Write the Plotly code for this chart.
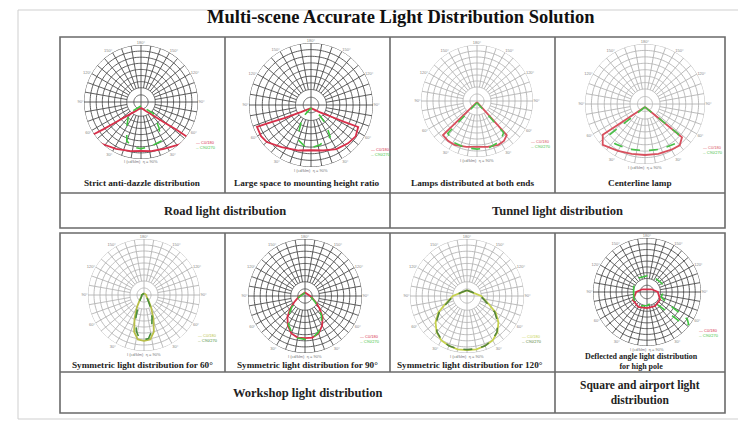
import numpy as np
import plotly.graph_objects as go

W, H = 738, 425

# ---- data: luminous intensity curves (angle from nadir in degrees, relative intensity) ----
# Road: strict anti-dazzle
antidazzle_c0_theta = [0, -30, -44, -51, -54, -56, -46, -28, -12, 0, 12, 25, 44, 53, 52, 49, 42, 28, 0]
antidazzle_c0_r = [0.10, 0.18, 0.32, 0.56, 0.81, 1.05, 1.03, 0.93, 0.88, 0.86, 0.88, 0.91, 1.02, 1.05, 0.80, 0.56, 0.32, 0.18, 0.10]
antidazzle_c90_theta = [0, -47, -30, -20, -10, 0, 12, 27, 35, 47, 0]
antidazzle_c90_r = [0.07, 0.29, 0.50, 0.73, 0.80, 0.82, 0.80, 0.77, 0.55, 0.29, 0.07]

# Road: large spacing-to-mounting-height ratio
spacing_c0_theta = [0, -55, -64, -67, -68, -58, -50, -35, -15, 0, 15, 30, 44, 55, 65, 63, 60, 50, 0]
spacing_c0_r = [0.05, 0.20, 0.48, 0.75, 0.94, 0.95, 0.93, 0.83, 0.76, 0.73, 0.76, 0.82, 0.86, 0.88, 0.84, 0.60, 0.38, 0.18, 0.05]
spacing_c90_theta = [0, -35, -25, -20, -8, 0, 12, 31, 38, 40, 0]
spacing_c90_r = [0.05, 0.25, 0.45, 0.60, 0.68, 0.69, 0.66, 0.60, 0.40, 0.22, 0.05]

# Tunnel: lamps distributed at both ends
both_ends_c0_theta = [0, -45, -36, -27, -13, 0, 13, 26, 34, 41, 0]
both_ends_c0_r = [0.02, 0.86, 0.88, 0.88, 0.84, 0.82, 0.84, 0.87, 0.86, 0.81, 0.02]
both_ends_c90_theta = [0, -42, -30, -15, 0, 15, 30, 40, 0]
both_ends_c90_r = [0.03, 0.78, 0.85, 0.86, 0.86, 0.86, 0.83, 0.74, 0.03]

# Tunnel: centerline lamp
centerline_c0_theta = [0, -54, -46, -30, -15, 0, 15, 30, 40, 48, 0]
centerline_c0_r = [0.05, 0.87, 0.98, 0.90, 0.86, 0.85, 0.86, 0.88, 0.90, 0.83, 0.05]
centerline_c90_theta = [0, -49, -37, -20, 0, 20, 37, 48, 0]
centerline_c90_r = [0.05, 0.77, 0.83, 0.80, 0.78, 0.80, 0.83, 0.75, 0.05]

# Workshop: symmetric 60 degrees
sym60_c0_theta = [-180, -90, -60, -40, -30, -22, -15, -8, 0, 8, 15, 22, 30, 40, 60, 90, 180]
sym60_c0_r = [0.03, 0.04, 0.05, 0.12, 0.25, 0.45, 0.68, 0.80, 0.82, 0.80, 0.68, 0.45, 0.25, 0.12, 0.05, 0.04, 0.03]
sym60_c90_theta = [-180, -90, -60, -40, -30, -20, -12, -6, 0, 6, 12, 20, 30, 40, 60, 90, 180]
sym60_c90_r = [0.03, 0.04, 0.05, 0.10, 0.20, 0.42, 0.66, 0.78, 0.80, 0.78, 0.66, 0.42, 0.20, 0.10, 0.05, 0.04, 0.03]

# Workshop: symmetric 90 degrees
sym90_c0_theta = [-180, -90, -75, -60, -50, -40, -30, -20, -10, 0, 10, 20, 30, 40, 50, 60, 75, 90, 180]
sym90_c0_r = [0.06, 0.09, 0.13, 0.22, 0.33, 0.48, 0.60, 0.70, 0.74, 0.74, 0.74, 0.70, 0.60, 0.48, 0.33, 0.22, 0.13, 0.09, 0.06]
sym90_c90_theta = [-180, -90, -75, -60, -50, -40, -30, -20, -10, 0, 10, 20, 30, 40, 50, 60, 75, 90, 180]
sym90_c90_r = [0.06, 0.08, 0.12, 0.20, 0.30, 0.45, 0.58, 0.68, 0.75, 0.76, 0.75, 0.68, 0.58, 0.45, 0.30, 0.20, 0.12, 0.08, 0.06]

# Workshop: symmetric 120 degrees
sym120_c0_theta = [-180, -120, -90, -80, -70, -60, -50, -40, -30, -20, -10, 0, 10, 20, 30, 40, 50, 60, 70, 80, 90, 120, 180]
sym120_c0_r = [0.10, 0.12, 0.25, 0.30, 0.40, 0.58, 0.72, 0.83, 0.90, 0.93, 0.95, 0.95, 0.95, 0.93, 0.90, 0.83, 0.72, 0.58, 0.40, 0.30, 0.25, 0.12, 0.10]
sym120_c90_theta = [-180, -120, -90, -80, -70, -60, -50, -40, -30, -20, -10, 0, 10, 20, 30, 40, 50, 60, 70, 80, 90, 120, 180]
sym120_c90_r = [0.10, 0.12, 0.24, 0.29, 0.38, 0.56, 0.70, 0.82, 0.89, 0.93, 0.94, 0.94, 0.94, 0.93, 0.89, 0.82, 0.70, 0.56, 0.38, 0.29, 0.24, 0.12, 0.10]

# Square / airport: deflected beam for high pole
deflected_c0_theta = [0, -30, -60, -90, -120, -180, 120, 90, 60, 30, 0]
deflected_c0_r = [0.30, 0.32, 0.30, 0.20, 0.10, 0.05, 0.10, 0.20, 0.28, 0.30, 0.30]
deflected_c90_theta = [-90, -60, -30, 0, 30, 42, 48, 52, 56, 60, 70, 90, 120, 150, 180, -150, -120, -90]
deflected_c90_r = [0.25, 0.28, 0.30, 0.25, 0.22, 0.35, 0.85, 0.98, 0.90, 0.50, 0.28, 0.30, 0.32, 0.30, 0.30, 0.30, 0.28, 0.25]

captions = [
    "Strict anti-dazzle distribution",
    "Large space to mounting height ratio",
    "Lamps distributed at both ends",
    "Centerline lamp",
    "Symmetric light distribution for 60°",
    "Symmetric light distribution for 90°",
    "Symmetric light distribution for 120°",
    "Deflected angle light distribution<br>for high pole",
]
sections = [
    "Road light distribution",
    "Tunnel light distribution",
    "Workshop light distribution",
    "Square and airport light<br>distribution",
]
angle_ticks = [0, 30, 60, 90, 120, 150, 180, 210, 240, 270, 300, 330]
angle_labels = ["", "30°", "60°", "90°", "120°", "150°", "180°", "150°", "120°", "90°", "60°", "30°"]

curves = [
    (antidazzle_c0_theta, antidazzle_c0_r, antidazzle_c90_theta, antidazzle_c90_r),
    (spacing_c0_theta, spacing_c0_r, spacing_c90_theta, spacing_c90_r),
    (both_ends_c0_theta, both_ends_c0_r, both_ends_c90_theta, both_ends_c90_r),
    (centerline_c0_theta, centerline_c0_r, centerline_c90_theta, centerline_c90_r),
    (sym60_c0_theta, sym60_c0_r, sym60_c90_theta, sym60_c90_r),
    (sym90_c0_theta, sym90_c0_r, sym90_c90_theta, sym90_c90_r),
    (sym120_c0_theta, sym120_c0_r, sym120_c90_theta, sym120_c90_r),
    (deflected_c0_theta, deflected_c0_r, deflected_c90_theta, deflected_c90_r),
]

# ---- layout of each diagram: centre (px), radius (px), grid tone, curve colours ----
panels = [
    dict(cx=141, cy=102, rad=57, grid="#4d4d4d", c0="#d8304a", c90="#3fc43f"),
    dict(cx=311, cy=105, rad=62, grid="#4d4d4d", c0="#d8304a", c90="#3fc43f"),
    dict(cx=477, cy=101, rad=56, grid="#b4b4b4", c0="#d8505e", c90="#48c048"),
    dict(cx=645, cy=104, rad=60, grid="#b4b4b4", c0="#d8505e", c90="#48c048"),
    dict(cx=144, cy=295, rad=56, grid="#b4b4b4", c0="#b9bf4a", c90="#4a8f3a"),
    dict(cx=305, cy=296, rad=57, grid="#4d4d4d", c0="#d8304a", c90="#3fc43f"),
    dict(cx=467, cy=296, rad=57, grid="#b4b4b4", c0="#c7d24e", c90="#55853a"),
    dict(cx=647, cy=292, rad=54, grid="#4d4d4d", c0="#d8304a", c90="#3fc43f"),
]


def px(x):
    return x / W


def py(y):
    return 1 - y / H


def note(x, y, text, size, color="#222222", family="Liberation Serif", **kw):
    args = dict(xanchor="center", yanchor="middle", align="center")
    args.update(kw)
    fig.add_annotation(x=px(x), y=py(y), xref="paper", yref="paper", text=text, showarrow=False,
                       font=dict(size=size, color=color, family=family), **args)


fig = go.Figure()

hole = 0.25
rings = np.linspace(hole, 1.0, 8)
ring_theta = np.linspace(0, 360, 181)

for i, (p, (t0, r0, t90, r90)) in enumerate(zip(panels, curves), start=1):
    sub = "polar" if i == 1 else f"polar{i}"
    # concentric rings
    rt, rr = [], []
    for rv in list(rings) + [0.125]:
        rt += list(ring_theta) + [None]
        rr += [rv] * len(ring_theta) + [None]
    # spokes every 10 degrees outside the hub, axes through the hub
    st, sr = [], []
    for a in range(0, 360, 10):
        start = 0 if a % 90 == 0 else hole
        st += [a, a, None]
        sr += [start, 1.0, None]
    fig.add_trace(go.Scatterpolar(theta=rt, r=rr, mode="lines", subplot=sub,
                                  line=dict(color=p["grid"], width=0.9), hoverinfo="skip", showlegend=False))
    fig.add_trace(go.Scatterpolar(theta=st, r=sr, mode="lines", subplot=sub,
                                  line=dict(color=p["grid"], width=0.9), hoverinfo="skip", showlegend=False))
    fig.add_trace(go.Scatterpolar(theta=t0, r=r0, mode="lines", subplot=sub,
                                  line=dict(color=p["c0"], width=1.8), showlegend=False))
    fig.add_trace(go.Scatterpolar(theta=t90, r=r90, mode="lines", subplot=sub,
                                  line=dict(color=p["c90"], width=1.6, dash="dash"), showlegend=False))

    d = p["rad"]
    fig.layout[sub] = dict(
        domain=dict(x=[px(p["cx"] - d), px(p["cx"] + d)], y=[py(p["cy"] + d), py(p["cy"] - d)]),
        bgcolor="rgba(0,0,0,0)",
        radialaxis=dict(visible=False, range=[0, 1]),
        angularaxis=dict(rotation=270, direction="counterclockwise", showgrid=False, showline=False,
                         ticks="", tickvals=angle_ticks, ticktext=angle_labels,
                         tickfont=dict(size=4, color="#888888", family="Liberation Sans")),
    )
    # small unit note under each diagram
    note(p["cx"], p["cy"] + d + 3, "I (cd/klm)  η = 90%", 4, color="#777777", family="Liberation Sans")
    # tiny legend at lower right
    note(p["cx"] + d * 0.93, p["cy"] + d * 0.76,
         f"<span style='color:{p['c0']}'>— C0/180</span><br><span style='color:{p['c90']}'>-- C90/270</span>",
         4, color="#777777", family="Liberation Sans", xanchor="left", align="left")

# ---- table frames ----
frame = dict(color="#6a6a6a", width=1.6)
shapes = [
    dict(type="rect", x0=px(18), x1=px(745), y0=py(10), y1=py(419), line=dict(color="#cfcfcf", width=1)),
    dict(type="rect", x0=px(60), x1=px(725), y0=py(37), y1=py(228), line=frame),
    dict(type="line", x0=px(60), x1=px(725), y0=py(193), y1=py(193), line=frame),
    dict(type="line", x0=px(225), x1=px(225), y0=py(37), y1=py(193), line=frame),
    dict(type="line", x0=px(390), x1=px(390), y0=py(37), y1=py(228), line=frame),
    dict(type="line", x0=px(555), x1=px(555), y0=py(37), y1=py(193), line=frame),
    dict(type="rect", x0=px(60), x1=px(725), y0=py(233), y1=py(413), line=frame),
    dict(type="line", x0=px(60), x1=px(725), y0=py(372), y1=py(372), line=frame),
    dict(type="line", x0=px(225), x1=px(225), y0=py(233), y1=py(372), line=frame),
    dict(type="line", x0=px(390), x1=px(390), y0=py(233), y1=py(372), line=frame),
    dict(type="line", x0=px(555), x1=px(555), y0=py(233), y1=py(413), line=frame),
]
for s in shapes:
    s["xref"] = "paper"
    s["yref"] = "paper"

cap_pos = [(142, 183), (307, 183), (472, 183), (640, 183),
           (142, 365), (307, 365), (470, 365), (641, 361)]
cap_size = [9.2, 9.2, 9.2, 9.2, 9.2, 9.2, 9.2, 8]
for (x, y), txt, sz in zip(cap_pos, captions, cap_size):
    note(x, y, f"<b>{txt}</b>", sz)

sec_pos = [(225, 211), (557, 211), (307, 393), (640, 392)]
sec_size = [12.5, 12.5, 12.5, 11.5]
for (x, y), txt, sz in zip(sec_pos, sections, sec_size):
    note(x, y, f"<b>{txt}</b>", sz)

note(401, 17, "<b>Multi-scene Accurate Light Distribution Solution</b>", 18.5, color="#111111")

fig.update_layout(width=W, height=H, margin=dict(l=0, r=0, t=0, b=0),
                  paper_bgcolor="white", plot_bgcolor="white", shapes=shapes, showlegend=False)

fig.write_html("out.html")
